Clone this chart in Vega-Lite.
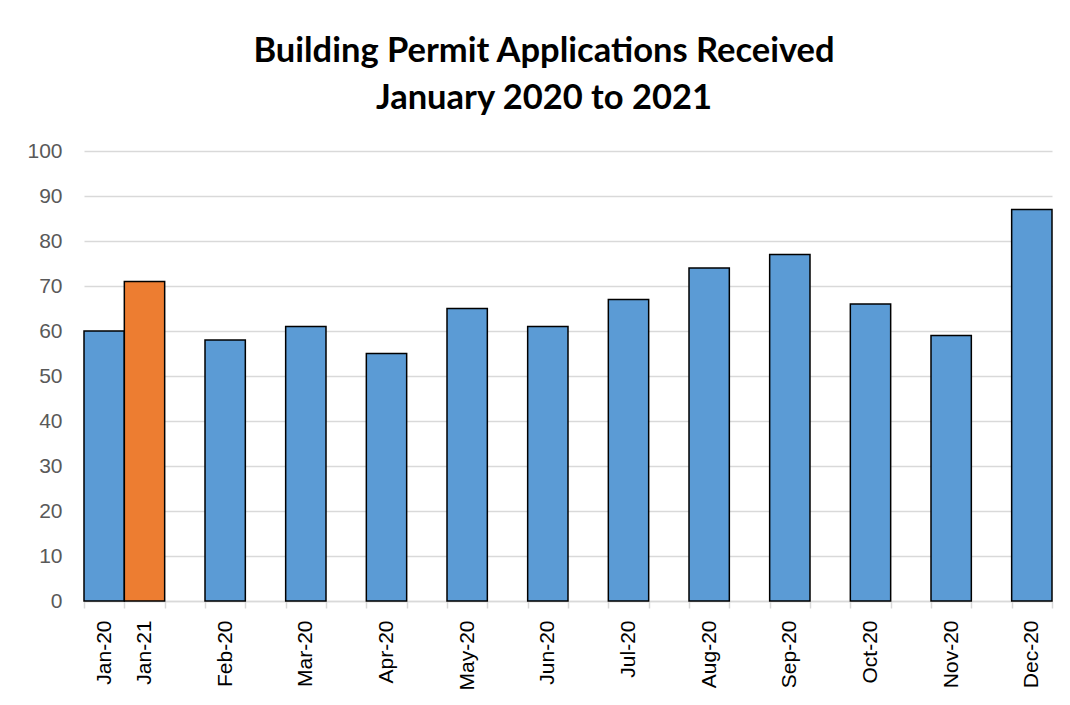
{
  "$schema": "https://vega.github.io/schema/vega-lite/v6.json",
  "width": 968,
  "height": 450,
  "autosize": {"type": "none"},
  "padding": {"left": 84, "top": 151, "right": 18, "bottom": 104},
  "background": "white",
  "title": {
    "text": ["Building Permit Applications Received", "January 2020 to 2021"],
    "font": "Lato",
    "fontWeight": "bold",
    "fontSize": 34.5,
    "lineHeight": 47,
    "color": "#000000",
    "anchor": "middle",
    "dx": -24,
    "offset": 24
  },
  "data": {
    "values": [
      {"month": "Jan-20", "year": "2020", "value": 60},
      {"month": "Jan-21", "year": "2021", "value": 71},
      {"month": "Feb-20", "year": "2020", "value": 58},
      {"month": "Mar-20", "year": "2020", "value": 61},
      {"month": "Apr-20", "year": "2020", "value": 55},
      {"month": "May-20", "year": "2020", "value": 65},
      {"month": "Jun-20", "year": "2020", "value": 61},
      {"month": "Jul-20", "year": "2020", "value": 67},
      {"month": "Aug-20", "year": "2020", "value": 74},
      {"month": "Sep-20", "year": "2020", "value": 77},
      {"month": "Oct-20", "year": "2020", "value": 66},
      {"month": "Nov-20", "year": "2020", "value": 59},
      {"month": "Dec-20", "year": "2020", "value": 87}
    ]
  },
  "mark": {"type": "bar", "stroke": "#000000", "strokeWidth": 1.5},
  "encoding": {
    "x": {
      "field": "month",
      "type": "nominal",
      "sort": null,
      "scale": {
        "domain": ["Jan-20", "Jan-21", "_1", "Feb-20", "_2", "Mar-20", "_3", "Apr-20", "_4", "May-20", "_5", "Jun-20", "_6", "Jul-20", "_7", "Aug-20", "_8", "Sep-20", "_9", "Oct-20", "_10", "Nov-20", "_11", "Dec-20"],
        "paddingInner": 0,
        "paddingOuter": 0
      },
      "axis": {
        "title": null,
        "labelAngle": 270,
        "labelExpr": "indexof(datum.label,'_')==0 ? '' : datum.label",
        "labelFont": "Liberation Sans",
        "labelFontSize": 21,
        "labelColor": "#000000",
        "labelPadding": 12,
        "tickBand": "extent",
        "tickSize": 7,
        "tickColor": "#d9d9d9",
        "tickWidth": 1.5,
        "domainColor": "#d9d9d9",
        "domainWidth": 1.5,
        "grid": false
      }
    },
    "y": {
      "field": "value",
      "type": "quantitative",
      "scale": {"domain": [0, 100], "nice": false},
      "axis": {
        "title": null,
        "values": [0, 10, 20, 30, 40, 50, 60, 70, 80, 90, 100],
        "labelFont": "Liberation Sans",
        "labelFontSize": 21,
        "labelColor": "#595959",
        "labelPadding": 22,
        "ticks": false,
        "domain": false,
        "grid": true,
        "gridColor": "#d9d9d9",
        "gridWidth": 1.3
      }
    },
    "color": {
      "field": "year",
      "type": "nominal",
      "scale": {"domain": ["2020", "2021"], "range": ["#5B9BD5", "#ED7D31"]},
      "legend": null
    }
  },
  "config": {"view": {"stroke": null}}
}
